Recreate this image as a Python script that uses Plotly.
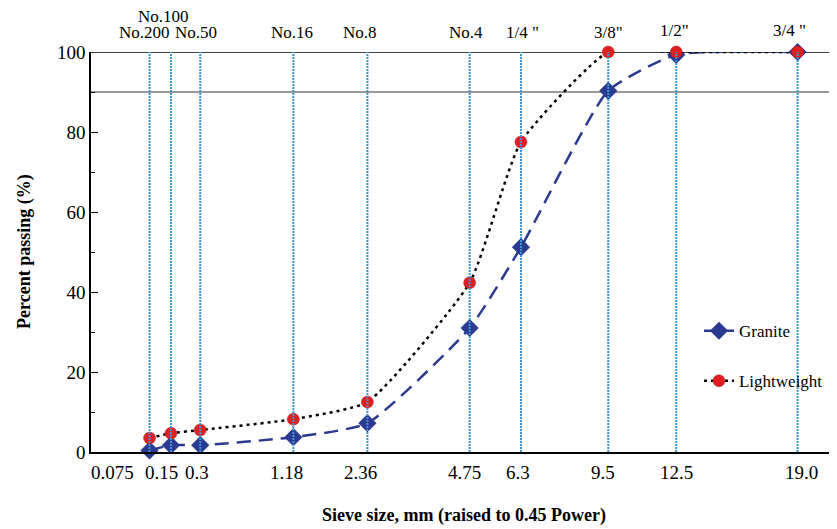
import plotly.graph_objects as go

sieve_mm = [0.075, 0.15, 0.3, 1.18, 2.36, 4.75, 6.3, 9.5, 12.5, 19.0]
bottom_labels = ["0.075", "0.15", "0.3", "1.18", "2.36", "4.75", "6.3", "9.5", "12.5", "19.0"]
top_labels = ["No.200", "No.100", "No.50", "No.16", "No.8", "No.4", "1/4 \"", "3/8\"", "1/2\"", "3/4 \""]
granite = [0.4, 1.7, 1.7, 3.7, 7.2, 31.0, 51.2, 90.3, 99.3, 100.0]
lightweight = [3.5, 4.7, 5.5, 8.2, 12.5, 42.3, 77.5, 100.0, 100.0, 100.0]
power = 0.45

xs = [s ** power for s in sieve_mm]

FONT = "Liberation Serif, Times New Roman, serif"

fig = go.Figure()
fig.add_trace(go.Scatter(
    x=xs, y=granite, name="Granite", mode="lines+markers",
    line=dict(color="#2b3990", width=2.5, dash="14px,8px", shape="spline", smoothing=0.5),
    marker=dict(symbol="diamond", size=14, color="#2b3990"),
    cliponaxis=False, legend="legend", showlegend=True,
))
fig.add_trace(go.Scatter(
    x=xs, y=lightweight, name="Lightweight", mode="lines+markers",
    line=dict(color="black", width=2.5, dash="3px,4px", shape="spline", smoothing=0.5),
    marker=dict(symbol="circle", size=12, color="#e02020", line=dict(color="#c01818", width=0.5)),
    cliponaxis=False, legend="legend2", showlegend=True,
))

# vertical sieve lines
for x in xs:
    fig.add_shape(type="line", x0=x, x1=x, y0=0, y1=100, xref="x", yref="y",
                  line=dict(color="#3c96d4", width=2, dash="2px,1px"), layer="above")
# horizontal lines at 100 and 90
fig.add_shape(type="line", x0=0, x1=1, xref="paper", y0=100, y1=100, yref="y",
              line=dict(color="black", width=1.5), layer="below")
fig.add_shape(type="line", x0=0, x1=1, xref="paper", y0=90, y1=90, yref="y",
              line=dict(color="#333333", width=1), layer="below")

# bottom labels (shifted where crowded)
bshift = [-37, -9, -3, -7, -7, -5, -3, -5, 0, 4]
for x, t, s in zip(xs, bottom_labels, bshift):
    fig.add_annotation(x=x, y=0, xref="x", yref="y", text=t, showarrow=False,
                       yanchor="top", yshift=-8, xshift=s,
                       font=dict(family=FONT, size=19, color="black"))
# top labels
tshift = [-5, -7, -4, -1, -7, -4, 2, 0, -2, -8]
tyshift = [8, 24, 8, 8, 8, 8, 8, 8, 10, 10]
for x, t, s, ys in zip(xs, top_labels, tshift, tyshift):
    fig.add_annotation(x=x, y=100, xref="x", yref="y", text=t, showarrow=False,
                       yanchor="bottom", yshift=ys, xshift=s,
                       font=dict(family=FONT, size=17, color="black"))

# axis titles
fig.add_annotation(x=0.5, y=0, xref="paper", yref="paper", text="<b>Sieve size, mm (raised to 0.45 Power)</b>",
                   showarrow=False, yanchor="middle", yshift=-63, xshift=0,
                   font=dict(family=FONT, size=18, color="black"))
fig.add_annotation(x=0, y=0.5, xref="paper", yref="paper", text="<b>Percent passing (%)</b>",
                   showarrow=False, textangle=-90, xanchor="center", xshift=-67,
                   font=dict(family=FONT, size=18, color="black"))

fig.update_layout(
    width=829, height=521,
    margin=dict(l=83, r=0, t=44, b=77, autoexpand=False),
    plot_bgcolor="white", paper_bgcolor="white",
    showlegend=True,
    font=dict(family=FONT, size=18, color="black"),
    legend=dict(x=0.815, y=0.302, xanchor="left", yanchor="middle",
                bgcolor="rgba(0,0,0,0)", font=dict(family=FONT, size=17)),
    legend2=dict(x=0.815, y=0.177, xanchor="left", yanchor="middle",
                 bgcolor="rgba(0,0,0,0)", font=dict(family=FONT, size=17)),
    xaxis=dict(range=[0, 3.972], showgrid=False, zeroline=False, showticklabels=False,
               showline=True, linecolor="black", linewidth=1.5, ticks="", automargin=False),
    yaxis=dict(range=[0, 100], showgrid=False, zeroline=False, automargin=False,
               showline=True, linecolor="black", linewidth=1.5,
               tickvals=[0, 20, 40, 60, 80, 100], ticks="inside", ticklen=7, tickcolor="black",
               tickfont=dict(family=FONT, size=19),
               minor=dict(tickvals=[10, 30, 50, 70, 90], ticks="inside", ticklen=4, tickcolor="black")),
)

fig.write_html("out.html")
